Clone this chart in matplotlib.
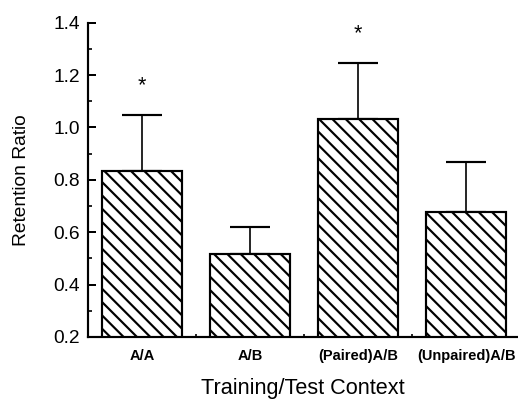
import numpy as np
import matplotlib.pyplot as plt
from matplotlib.ticker import MultipleLocator, FixedLocator

# Datos
contextos = ['A/A', 'A/B', '(Paired)A/B', '(Unpaired)A/B']
ratio = [0.834, 0.516, 1.033, 0.676]
error = [0.214, 0.104, 0.214, 0.192]
signif = [True, False, True, False]

plt.rcParams['font.family'] = ['Liberation Sans', 'DejaVu Sans']
plt.rcParams['hatch.linewidth'] = 1.3

fig = plt.figure(figsize=(518 / 120, 405 / 120), dpi=120)
ax = fig.add_axes([0.170, 0.168, 0.830, 0.776])

x = np.arange(len(contextos))
ax.bar(x, ratio, width=0.74, bottom=0, color='white', edgecolor='black',
       linewidth=1.3, hatch='\\\\\\', zorder=2)
ax.errorbar(x, ratio, yerr=[np.zeros(len(error)), error], fmt='none',
            ecolor='black', elinewidth=1.0, capsize=12, capthick=1.3, zorder=1)

# asteriscos de significacion
for xi, r, e, s in zip(x, ratio, error, signif):
    if s:
        ax.text(xi, r + e + 0.11, '*', ha='center', va='center', fontsize=13)

ax.set_ylim(0.2, 1.4)
ax.set_xlim(-0.5, 3.48)
ax.yaxis.set_major_locator(MultipleLocator(0.2))
ax.yaxis.set_minor_locator(MultipleLocator(0.1))
ax.set_yticklabels([f'{v:.1f}' for v in ax.get_yticks()])
ax.set_xticks(x)
ax.set_xticklabels(contextos, fontsize=8.8, fontweight='bold')
ax.xaxis.set_minor_locator(FixedLocator([0.5, 1.5, 2.5]))

ax.tick_params(axis='y', which='major', direction='in', length=5, width=1.2,
               labelsize=11.5, pad=5)
ax.tick_params(axis='y', which='minor', direction='in', length=2.5, width=1.0)
ax.tick_params(axis='x', which='major', length=0, pad=7)
ax.tick_params(axis='x', which='minor', direction='in', length=2, width=1.0)

for lado in ['top', 'right']:
    ax.spines[lado].set_visible(False)
ax.spines['left'].set_linewidth(1.3)
ax.spines['bottom'].set_linewidth(1.3)

ax.set_ylabel('Retention Ratio', fontsize=11.5, labelpad=14)
ax.set_xlabel('Training/Test Context', fontsize=13, labelpad=9)

fig.savefig('out.png', dpi=120)
